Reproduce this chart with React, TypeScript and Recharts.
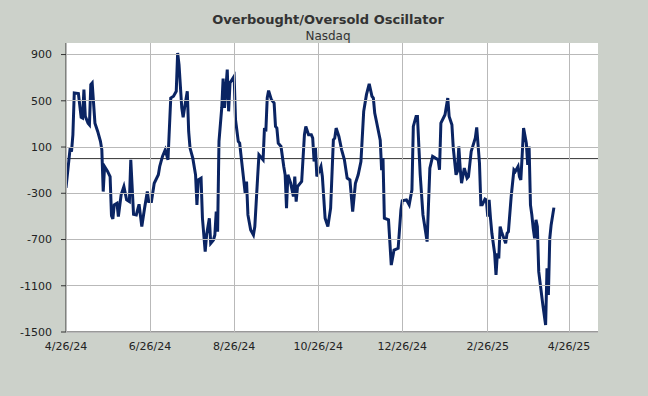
import React from 'react';
import { LineChart, Line, XAxis, YAxis, ReferenceLine, ReferenceArea } from 'recharts';

const DAY = 86400000;
const BASE = Date.UTC(2024, 3, 26);

// Days after 4/26/24 of each reading
const days = [
  0, 3, 4, 5, 6, 9, 11, 12, 13, 14, 16, 17, 18, 19, 21, 23, 25, 26, 27, 28,
  30, 32, 33, 34, 35, 37, 38, 40, 42, 44, 46, 47, 49, 51, 53, 55, 57, 59, 60, 62,
  64, 67, 68, 70, 72, 74, 76, 78, 80, 81, 82, 84, 85, 86, 88, 89, 90, 92, 94, 95,
  96, 98, 99, 101, 102, 104, 105, 107, 108, 109, 110, 111, 113, 114, 115, 117, 118, 119, 122, 123,
  125, 126, 128, 130, 131, 132, 134, 136, 137, 139, 140, 143, 144, 145, 146, 147, 149, 151, 152, 153,
  154, 156, 158, 159, 160, 161, 163, 165, 166, 167, 168, 171, 173, 174, 176, 178, 179, 180, 181, 182,
  185, 186, 188, 190, 192, 194, 195, 196, 198, 200, 202, 204, 206, 208, 210, 212, 214, 216, 218, 220,
  222, 223, 224, 225, 228, 229, 230, 231, 234, 236, 238, 241, 243, 244, 247, 249, 251, 252, 254, 255,
  257, 259, 262, 264, 266, 268, 270, 271, 272, 275, 277, 278, 280, 281, 283, 284, 285, 286, 287, 289,
  291, 292, 294, 297, 298, 300, 301, 302, 304, 305, 306, 307, 308, 309, 311, 312, 313, 314, 315, 316,
  319, 320, 321, 323, 325, 326, 328, 329, 330, 331, 332, 334, 335, 336, 337, 338, 339, 340, 341, 342,
  343, 346, 348, 349, 350, 351, 352, 354,
];

// Oscillator readings
const values = [
  -254, 90, 60, 206, 568, 562, 357, 351, 597, 365, 307, 293, 640, 654, 307, 235, 149, 76, -285, -68,
  -106, -155, -493, -522, -400, -386, -502, -314, -242, -357, -372, -10, -481, -487, -395, -588, -429, -285, -372, -372,
  -213, -140, -68, 19, 76, -10, 524, 539, 582, 914, 813, 438, 357, 438, 582, 235, 91, 4, -140, -400,
  -184, -169, -516, -805, -661, -516, -733, -704, -661, -458, -632, 149, 438, 692, 438, 770, 409, 654, 712, 336,
  149, 134, -82, -299, -198, -487, -617, -661, -588, -169, 33, -10, 264, 235, 524, 588, 510, 481, 279, 264,
  134, 105, -68, -140, -429, -140, -213, -328, -155, -372, -242, -198, 206, 278, 206, 206, 177, -25, 91, -155,
  -68, -155, -516, -588, -429, 163, 177, 264, 192, 76, -10, -169, -184, -458, -213, -140, -25, 409, 553, 646,
  539, 524, 394, 336, 160, -100, 4, -516, -530, -921, -791, -776, -444, -365, -357, -400, -270, 279, 365, 365,
  -140, -487, -718, -82, 19, 4, -10, -97, 307, 380, 524, 365, 293, 91, -140, -111, 105, -82, -213, -82,
  -169, -155, 62, 178, 270, -39, -400, -400, -350, -357, -502, -357, -516, -646, -819, -1007, -819, -863, -588, -632,
  -733, -646, -632, -328, -97, -111, -68, -155, -184, 33, 264, 134, -54, 105, -400, -487, -603, -690, -530, -588,
  -978, -1267, -1440, -949, -1180, -690, -574, -424,
];

const yTicks = [-1500, -1100, -700, -300, 100, 500, 900];
const xTickDates: [number, number, number][] = [
  [2024, 4, 26], [2024, 6, 26], [2024, 8, 26], [2024, 10, 26], [2024, 12, 26], [2025, 2, 26], [2025, 4, 26],
];
const END_DAY = 386;

const data = days.map((d, i) => ({ t: BASE + d * DAY, v: values[i] }));
const xTicks = xTickDates.map(([y, m, d]) => Date.UTC(y, m - 1, d));
const xDomain: [number, number] = [BASE, BASE + END_DAY * DAY];

const fmtDate = (t: number) => {
  const d = new Date(t);
  return `${d.getUTCMonth() + 1}/${d.getUTCDate()}/${String(d.getUTCFullYear()).slice(2)}`;
};

const FONT = '"DejaVu Sans", Verdana, sans-serif';
const GRID = '#b9b9b9';
const PLOT_W = 532;
const PLOT_H = 289;
const Y_OFF = 14; // tickSize + tickMargin on the y axis
const X_OFF = 10; // tickSize + tickMargin on the x axis

const YTick = (props: any) => {
  const { x, y, payload } = props;
  return (
    <g>
      <line x1={x + Y_OFF} x2={x + Y_OFF + PLOT_W} y1={y} y2={y} stroke={GRID} strokeWidth={1} shapeRendering="crispEdges" />
      <text x={x} y={y} dy="0.355em" textAnchor="end" fill="#222222" fontSize={11} fontFamily={FONT}>
        {payload.value}
      </text>
    </g>
  );
};

const XTick = (props: any) => {
  const { x, y, payload } = props;
  return (
    <g>
      <line x1={x} x2={x} y1={y - X_OFF} y2={y - X_OFF - PLOT_H} stroke={GRID} strokeWidth={1} shapeRendering="crispEdges" />
      <text x={x} y={y} dy="0.71em" textAnchor="middle" fill="#222222" fontSize={11} fontFamily={FONT}>
        {fmtDate(payload.value)}
      </text>
    </g>
  );
};

export default function App() {
  return (
    <div style={{ position: 'absolute', left: 0, top: 0, width: 648, height: 396, background: '#ccd1ca' }}>
      <LineChart
        width={648}
        height={396}
        data={data}
        margin={{ top: 43, right: 50, bottom: 34, left: 6 }}
      >
        <ReferenceArea
          x1={xDomain[0]}
          x2={xDomain[1]}
          y1={-1500}
          y2={1000}
          fill="#ffffff"
          fillOpacity={1}
          stroke="none"
        />
        <XAxis
          dataKey="t"
          type="number"
          scale="time"
          domain={xDomain}
          ticks={xTicks}
          interval={0}
          allowDataOverflow
          height={30}
          tickLine={false}
          tickSize={5}
          tickMargin={5}
          axisLine={{ stroke: '#333333' }}
          tick={<XTick />}
        />
        <XAxis
          xAxisId="top"
          orientation="top"
          dataKey="t"
          type="number"
          domain={xDomain}
          allowDataOverflow
          height={0}
          tick={false}
          tickLine={false}
          axisLine={{ stroke: '#333333' }}
        />
        <YAxis
          type="number"
          domain={[-1500, 1000]}
          ticks={yTicks}
          interval={0}
          allowDataOverflow
          width={60}
          tickSize={5}
          tickMargin={9}
          tickLine={{ stroke: '#333333' }}
          axisLine={{ stroke: '#333333' }}
          tick={<YTick />}
        />
        <YAxis
          yAxisId="right"
          orientation="right"
          type="number"
          domain={[-1500, 1000]}
          allowDataOverflow
          width={0}
          tick={false}
          tickLine={false}
          axisLine={{ stroke: '#333333' }}
        />
        <ReferenceLine y={0} stroke="#333333" strokeWidth={1} />
        <Line
          dataKey="v"
          type="linear"
          stroke="#0a2463"
          strokeWidth={3}
          dot={false}
          isAnimationActive={false}
        />
      </LineChart>
      <svg width={648} height={50} style={{ position: 'absolute', left: 0, top: 0, pointerEvents: 'none' }}>
        <text x={328} y={24} textAnchor="middle" fontFamily={FONT} fontSize={13} fontWeight="bold" fill="#333333">
          Overbought/Oversold Oscillator
        </text>
        <text x={328} y={40} textAnchor="middle" fontFamily={FONT} fontSize={12} fill="#333333">
          Nasdaq
        </text>
      </svg>
    </div>
  );
}
